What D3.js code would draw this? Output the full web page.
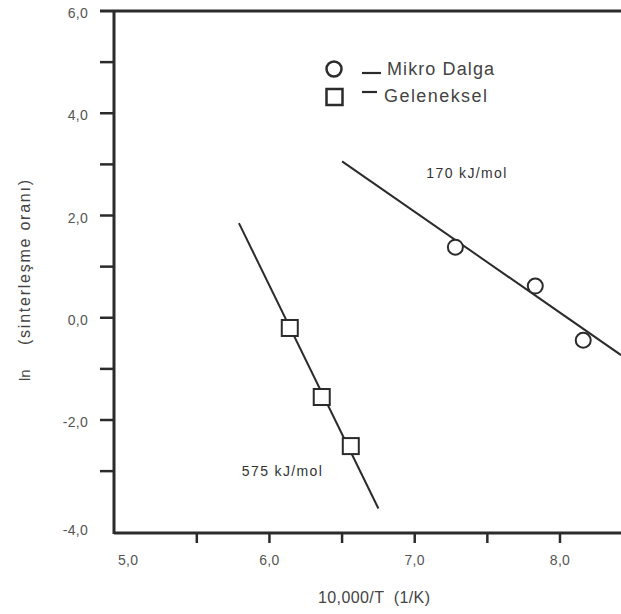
<!DOCTYPE html>
<html><head><meta charset="utf-8">
<script src="https://cdn.jsdelivr.net/npm/d3@7"></script>
<style>
body{margin:0;background:#fff;}
text{font-family:"Liberation Sans",Arial,sans-serif;}
</style></head>
<body><svg id="c" width="621" height="614"></svg>
<script>
// Data
const xTicksMajor = [5, 6, 7, 8];
const xTicksMinor = [5.5, 6, 6.5, 7, 7.5, 8];
const yTicksAll = [6, 5, 4, 3, 2, 1, 0, -1, -2, -3];
const yTickLabels = [6, 4, 2, 0, -2, -4];
const mikroX = [7.28, 7.83, 8.16];
const mikroY = [1.38, 0.62, -0.44];
const mikroLineX = [6.50, 8.42];
const mikroLineY = [3.06, -0.73];
const gelenekselX = [6.14, 6.36, 6.56];
const gelenekselY = [-0.20, -1.55, -2.51];
const gelenekselLineX = [5.79, 6.75];
const gelenekselLineY = [1.85, -3.73];
const legendLabels = ["Mikro Dalga", "Geleneksel"];
const annotations = [
  {text: "170 kJ/mol", x: 7.08, y: 2.73},
  {text: "575 kJ/mol", x: 5.81, y: -3.10}
];

const svg = d3.select("#c");
const ink = "#2b2b2b";
const x = d3.scaleLinear().domain([4.93, 8.42]).range([114, 621]);
const y = d3.scaleLinear().domain([-4.21, 6]).range([533, 11]);
const fmt = v => d3.format(".1f")(v).replace(".", ",").replace("\u2212", "-");

// frame: top line, left axis, bottom axis
svg.append("line").attr("x1", 100).attr("x2", 621).attr("y1", y(6)).attr("y2", y(6))
  .attr("stroke", ink).attr("stroke-width", 3);
svg.append("line").attr("x1", x.range()[0]).attr("x2", x.range()[0]).attr("y1", y(6)).attr("y2", y.range()[0] + 1)
  .attr("stroke", ink).attr("stroke-width", 3);
svg.append("line").attr("x1", x.range()[0]).attr("x2", 621).attr("y1", y.range()[0]).attr("y2", y.range()[0])
  .attr("stroke", ink).attr("stroke-width", 3);

// y ticks
svg.selectAll(".yt").data(yTicksAll.filter(d => d !== 6)).enter().append("line")
  .attr("x1", 100).attr("x2", 114).attr("y1", d => y(d)).attr("y2", d => y(d))
  .attr("stroke", ink).attr("stroke-width", 2.5);
svg.selectAll(".yl").data(yTickLabels).enter().append("text")
  .attr("x", 88).attr("y", d => d === -4 ? y.range()[0] + 2 : y(d) + 7)
  .attr("text-anchor", "end").attr("font-size", 14).attr("letter-spacing", 0.3).attr("fill", "#555")
  .text(fmt);

// x ticks
svg.selectAll(".xt").data(xTicksMinor).enter().append("line")
  .attr("x1", d => x(d)).attr("x2", d => x(d)).attr("y1", 533).attr("y2", 543)
  .attr("stroke", ink).attr("stroke-width", 2.5);
svg.selectAll(".xl").data(xTicksMajor).enter().append("text")
  .attr("x", d => x(d) + (d === 5 ? 4 : 0)).attr("y", 565)
  .attr("text-anchor", "middle").attr("font-size", 14).attr("letter-spacing", 0.3).attr("fill", "#555")
  .text(fmt);

// axis titles
svg.append("text").attr("x", 318).attr("y", 603)
  .attr("font-size", 16).attr("fill", "#444")
  .attr("textLength", 112).attr("lengthAdjust", "spacing")
  .attr("xml:space", "preserve").text("10,000/T  (1/K)");
svg.append("text").attr("transform", "translate(30,381) rotate(-90)")
  .attr("font-size", 15).attr("fill", "#444").text("ln");
svg.append("text").attr("transform", "translate(30,345) rotate(-90)")
  .attr("font-size", 16).attr("fill", "#444")
  .attr("textLength", 165).attr("lengthAdjust", "spacing")
  .text("(sinterleşme oranı)");

// fit lines
const line = d3.line().x(d => x(d[0])).y(d => y(d[1]));
svg.append("path").attr("d", line(d3.zip(mikroLineX, mikroLineY)))
  .attr("stroke", ink).attr("stroke-width", 2).attr("fill", "none");
svg.append("path").attr("d", line(d3.zip(gelenekselLineX, gelenekselLineY)))
  .attr("stroke", ink).attr("stroke-width", 2).attr("fill", "none");

// markers
svg.selectAll(".mc").data(d3.zip(mikroX, mikroY)).enter().append("circle")
  .attr("cx", d => x(d[0])).attr("cy", d => y(d[1])).attr("r", 7.5)
  .attr("fill", "#fff").attr("stroke", ink).attr("stroke-width", 2);
svg.selectAll(".gs").data(d3.zip(gelenekselX, gelenekselY)).enter().append("rect")
  .attr("x", d => x(d[0]) - 8).attr("y", d => y(d[1]) - 8).attr("width", 16).attr("height", 16)
  .attr("fill", "#fff").attr("stroke", ink).attr("stroke-width", 2);

// annotations
svg.selectAll(".an").data(annotations).enter().append("text")
  .attr("x", d => x(d.x)).attr("y", d => y(d.y))
  .attr("font-size", 14).attr("fill", "#333")
  .attr("textLength", 80).attr("lengthAdjust", "spacing")
  .text(d => d.text);

// legend
const lg = svg.append("g").attr("transform", "translate(334,69)");
lg.append("circle").attr("cx", 0).attr("cy", 0).attr("r", 7.5)
  .attr("fill", "#fff").attr("stroke", ink).attr("stroke-width", 2.5);
lg.append("rect").attr("x", -7.5).attr("y", 20).attr("width", 16).attr("height", 16)
  .attr("fill", "#fff").attr("stroke", ink).attr("stroke-width", 2.5);
lg.selectAll(".ll").data(legendLabels).enter().append("line")
  .attr("x1", 28).attr("x2", (d, i) => i ? 43 : 47).attr("y1", (d, i) => i ? 23 : 4).attr("y2", (d, i) => i ? 23 : 4)
  .attr("stroke", ink).attr("stroke-width", 2.2);
lg.selectAll(".lt").data(legendLabels).enter().append("text")
  .attr("x", (d, i) => i ? 50 : 53).attr("y", (d, i) => i ? 33 : 6)
  .attr("font-size", 18).attr("fill", "#444")
  .attr("textLength", (d, i) => i ? 103 : 107).attr("lengthAdjust", "spacing")
  .text(d => d);
</script></body></html>
